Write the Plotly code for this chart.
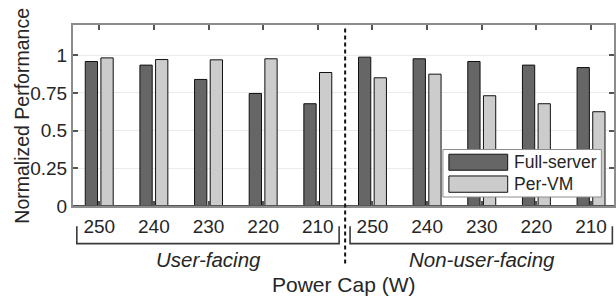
import plotly.graph_objects as go

# ---------------- data ----------------
power_caps = ["250", "240", "230", "220", "210"]
groups = ["User-facing", "Non-user-facing"]
uf_full = [0.958, 0.934, 0.839, 0.746, 0.678]
uf_pervm = [0.982, 0.971, 0.969, 0.976, 0.885]
nuf_full = [0.987, 0.976, 0.958, 0.934, 0.918]
nuf_pervm = [0.850, 0.874, 0.731, 0.678, 0.625]
series_names = ["Full-server", "Per-VM"]
y_ticks = [0, 0.25, 0.5, 0.75, 1]
y_tick_text = ["0", "0.25", "0.5", "0.75", "1"]

# ---------------- style ----------------
DARK = "#666666"
LIGHT = "#cccccc"
TXT = "#262626"
FONT = "Liberation Sans, Arial, Helvetica, sans-serif"
AX = "#8c8c8c"

n = len(power_caps)
xpos = list(range(2 * n))
full_vals = uf_full + nuf_full
pervm_vals = uf_pervm + nuf_pervm
labels = power_caps + power_caps

fig = go.Figure()
fig.add_trace(go.Bar(x=xpos, y=full_vals, name=series_names[0],
                     marker=dict(color=DARK, line=dict(color="#111111", width=1)),
                     showlegend=False))
fig.add_trace(go.Bar(x=xpos, y=pervm_vals, name=series_names[1],
                     marker=dict(color=LIGHT, line=dict(color="#111111", width=1)),
                     showlegend=False))

xr = [-0.48, 9.42]
fig.update_layout(
    width=616, height=296,
    margin=dict(l=73, r=0, t=25, b=90),
    paper_bgcolor="white", plot_bgcolor="white",
    barmode="group", bargap=0.427, bargroupgap=0.216,
    font=dict(family=FONT, size=19, color=TXT),
    showlegend=False,
)
fig.update_xaxes(
    range=xr, tickmode="array", tickvals=xpos, ticktext=labels,
    showline=True, linecolor=AX, linewidth=2, mirror="ticks",
    ticks="inside", ticklen=5, tickwidth=1.5, tickcolor="#555555",
    showgrid=False, zeroline=False, ticklabelstandoff=2,
    tickfont=dict(size=19, color=TXT),
)
fig.update_yaxes(
    range=[0, 1.2], tickmode="array", tickvals=y_ticks, ticktext=y_tick_text,
    showline=True, linecolor=AX, linewidth=2, mirror="ticks",
    ticks="inside", ticklen=5, tickwidth=1.5, tickcolor="#555555",
    showgrid=True, gridcolor="#ebebeb", gridwidth=1, zeroline=False,
    tickfont=dict(size=19, color=TXT), ticklabelstandoff=0,
)

shapes = []
# dark baseline
shapes.append(dict(type="line", xref="paper", yref="y", x0=0, x1=1, y0=0, y1=0,
                   line=dict(color="#555555", width=2), layer="above"))
# separator between groups
sep = n - 0.5
shapes.append(dict(type="line", xref="x", yref="paper", x0=sep, x1=sep, y0=0.98, y1=-0.32,
                   line=dict(color="#111111", width=2, dash="4px,3px"), layer="above"))
# group brackets
for gi in range(2):
    c = gi * n + (n - 1) / 2
    x0, x1 = c - 2.41, c + 2.39
    path = f"M {x0},-0.112 L {x0},-0.208 L {x1},-0.208 L {x1},-0.112"
    shapes.append(dict(type="path", xref="x", yref="paper", path=path,
                       line=dict(color="#3a3a3a", width=1.6)))

# manual legend
shapes.append(dict(type="rect", xref="paper", yref="paper", x0=0.6838, x1=0.9766,
                   y0=0.0498, y1=0.312, fillcolor="white", line=dict(color="#8c8c8c", width=1),
                   layer="above"))
shapes.append(dict(type="rect", xref="paper", yref="paper", x0=0.6948, x1=0.8035,
                   y0=0.1976, y1=0.286, fillcolor=DARK, line=dict(color="#111111", width=1),
                   layer="above"))
shapes.append(dict(type="rect", xref="paper", yref="paper", x0=0.6948, x1=0.8035,
                   y0=0.0758, y1=0.166, fillcolor=LIGHT, line=dict(color="#111111", width=1),
                   layer="above"))

annotations = []
for i, nm in enumerate(series_names):
    annotations.append(dict(xref="paper", yref="paper", x=0.812, y=[0.242, 0.121][i],
                            text=nm, showarrow=False, xanchor="left", yanchor="middle",
                            font=dict(size=17.5, color=TXT)))
for gi, g in enumerate(groups):
    annotations.append(dict(xref="x", yref="paper", x=gi * n + (n - 1) / 2, y=-0.295,
                            text=f"<i>{g}</i>", showarrow=False, xanchor="center",
                            yanchor="middle", font=dict(size=20.5, color=TXT)))
annotations.append(dict(xref="paper", yref="paper", x=0.5, y=-0.434, text="Power Cap (W)",
                        showarrow=False, xanchor="center", yanchor="middle",
                        font=dict(size=21, color=TXT)))
annotations.append(dict(xref="paper", yref="paper", x=-0.0958, y=0.5,
                        text="Normalized Performance", textangle=-90, showarrow=False,
                        xanchor="center", yanchor="middle", font=dict(size=19.5, color=TXT)))

fig.update_layout(shapes=shapes, annotations=annotations)
fig.write_html("out.html", config={"displayModeBar": False},
               post_script="document.body.style.margin='0px';document.body.style.padding='0px';")
